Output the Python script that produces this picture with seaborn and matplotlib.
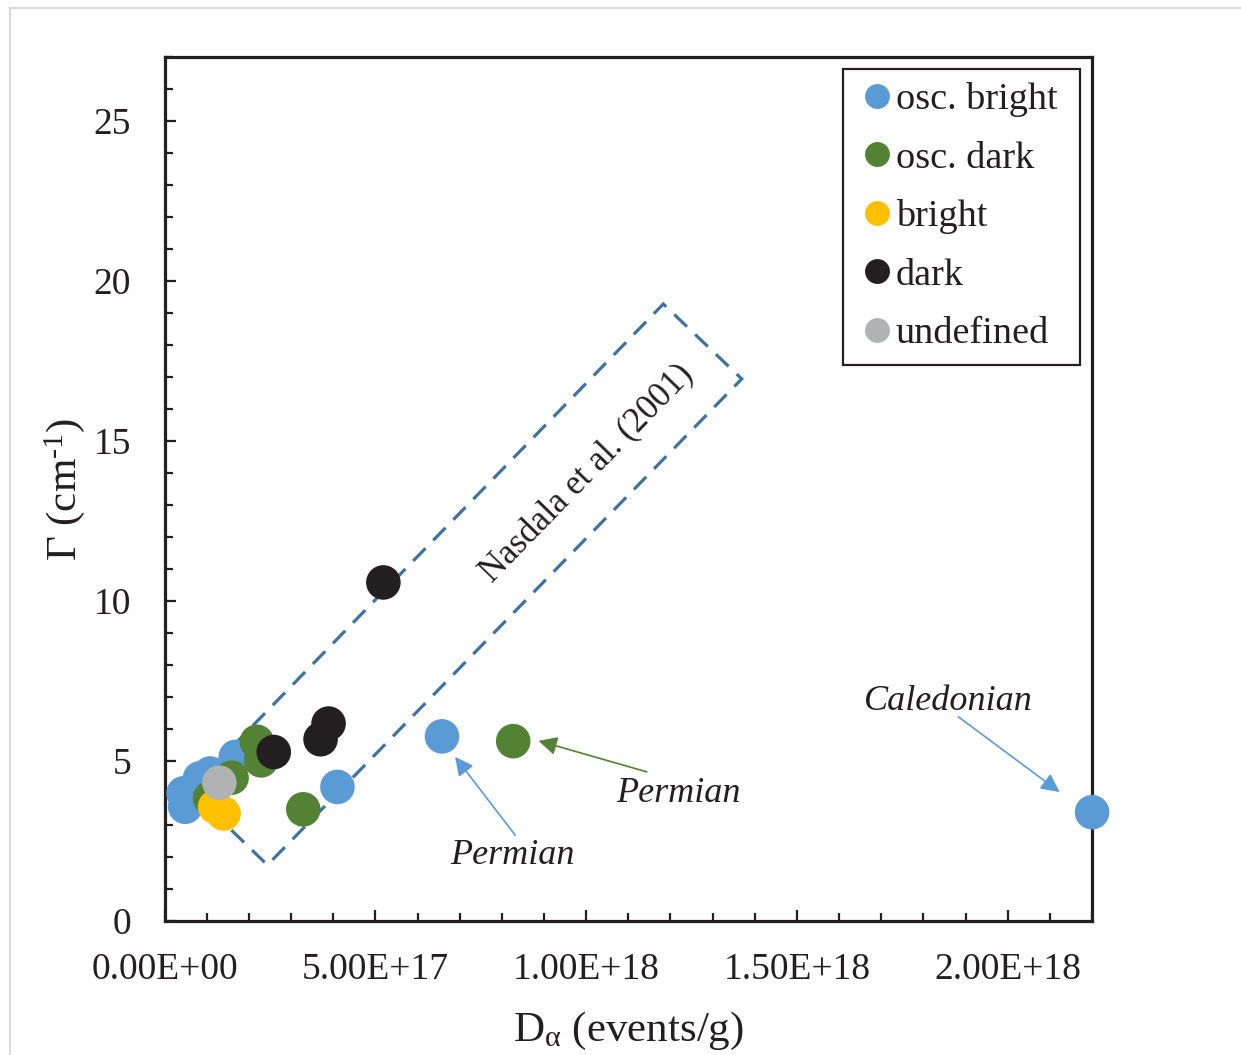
import matplotlib
matplotlib.use("Agg")
import matplotlib.pyplot as plt
from matplotlib.patches import Polygon, Rectangle
from matplotlib.ticker import MultipleLocator, FuncFormatter
import seaborn as sns
import pandas as pd

# Alpha dose (events/g) and Raman band width Γ (cm-1) per grain group
osc_bright_x = [0.45e17, 0.49e17, 0.84e17, 1.08e17, 1.69e17, 4.10e17, 6.58e17, 22.0e17]
osc_bright_y = [3.99, 3.57, 4.46, 4.61, 5.13, 4.19, 5.77, 3.40]

osc_dark_x = [1.08e17, 1.59e17, 2.19e17, 2.29e17, 3.29e17, 8.27e17]
osc_dark_y = [3.84, 4.48, 5.60, 5.02, 3.49, 5.62]

bright_x = [1.20e17, 1.40e17]
bright_y = [3.57, 3.36]

dark_x = [2.59e17, 3.70e17, 3.89e17, 5.19e17]
dark_y = [5.28, 5.68, 6.17, 10.58]

undefined_x = [1.30e17]
undefined_y = [4.32]

groups = ["osc. bright", "osc. dark", "bright", "dark", "undefined"]
colors = ["#5b9bd5", "#548235", "#ffc000", "#231f20", "#b1b2b4"]

# Nasdala et al. (2001) field, corners in data units
field_x = [0.605e17, 2.44e17, 13.69e17, 11.83e17]
field_y = [4.09, 1.75, 16.94, 19.28]

df = pd.concat([
    pd.DataFrame({"dose": osc_bright_x, "gamma": osc_bright_y, "group": groups[0]}),
    pd.DataFrame({"dose": osc_dark_x, "gamma": osc_dark_y, "group": groups[1]}),
    pd.DataFrame({"dose": bright_x, "gamma": bright_y, "group": groups[2]}),
    pd.DataFrame({"dose": dark_x, "gamma": dark_y, "group": groups[3]}),
    pd.DataFrame({"dose": undefined_x, "gamma": undefined_y, "group": groups[4]}),
], ignore_index=True)

sns.set_theme(style="white")
plt.rcParams["font.family"] = ["Liberation Serif", "DejaVu Serif"]
plt.rcParams["mathtext.fontset"] = "custom"
plt.rcParams["mathtext.rm"] = "Liberation Serif"
plt.rcParams["mathtext.it"] = "Liberation Serif"

fig = plt.figure(figsize=(12.41, 10.55), dpi=100)
ax = fig.add_axes([0.1326, 0.127, 0.7474, 0.819])

# light outer frame of the figure
fig.patches.append(Rectangle((10 / 1241, -0.05), 1.2, 0.05 + 1 - 8 / 1055,
                             transform=fig.transFigure, fill=False,
                             edgecolor="#d9d9d9", lw=1.5, zorder=0))

# dashed field
ax.add_patch(Polygon(list(zip(field_x, field_y)), closed=True, fill=False,
                     edgecolor="#3f72a0", lw=2.3, linestyle=(0, (5.5, 3.5)),
                     zorder=1))

sns.scatterplot(data=df, x="dose", y="gamma", hue="group", hue_order=groups,
                palette=colors, s=620, edgecolor="none", linewidth=0,
                alpha=1, ax=ax, zorder=3, clip_on=False)

ax.text(10.03e17, 13.98, "Nasdala et al. (2001)", rotation=45.8,
        rotation_mode="anchor", ha="center", va="center", fontsize=25,
        color="#231f20")

ax.set_xlim(0, 2.2e18)
ax.set_ylim(0, 27)
ax.xaxis.set_major_locator(MultipleLocator(5e17))
ax.xaxis.set_minor_locator(MultipleLocator(1e17))
ax.yaxis.set_major_locator(MultipleLocator(5))
ax.yaxis.set_minor_locator(MultipleLocator(1))
ax.xaxis.set_major_formatter(FuncFormatter(lambda v, p: f"{v:.2E}"))
ax.tick_params(which="both", direction="in", width=1.6, colors="#231f20",
               labelsize=27, labelcolor="#231f20", bottom=True, left=True,
               top=False, right=False)
ax.tick_params(which="major", length=8)
ax.tick_params(which="minor", length=5.5)
ax.tick_params(axis="y", which="both", pad=24)
ax.tick_params(axis="x", which="both", pad=23)
for sp in ax.spines.values():
    sp.set_linewidth(2.3)
    sp.set_color("#231f20")

ax.set_xlabel(r"D$_{\alpha}$ (events/g)", fontsize=31, color="#231f20",
              labelpad=16)
ax.set_ylabel(r"$\Gamma$ (cm$^{\text{-1}}$)", fontsize=31, color="#231f20",
              labelpad=5)

# annotations
arrow_kw = dict(arrowstyle="-|>", mutation_scale=28, lw=1.2,
                shrinkA=0, shrinkB=0)
ax.annotate("", xy=(6.89e17, 5.13), xytext=(8.32e17, 2.68),
            arrowprops=dict(color="#5b9bd5", **arrow_kw))
ax.annotate("", xy=(8.87e17, 5.63), xytext=(11.44e17, 4.66),
            arrowprops=dict(color="#548235", **arrow_kw))
ax.annotate("", xy=(21.23e17, 4.03), xytext=(18.83e17, 6.38),
            arrowprops=dict(color="#5b9bd5", **arrow_kw))
ax.text(8.24e17, 2.06, "Permian", style="italic", fontsize=26,
        ha="center", va="center", color="#231f20")
ax.text(12.18e17, 4.0, "Permian", style="italic", fontsize=26,
        ha="center", va="center", color="#231f20")
ax.text(18.59e17, 6.87, "Caledonian", style="italic", fontsize=26,
        ha="center", va="center", color="#231f20")

handles, labels = ax.get_legend_handles_labels()
leg = ax.legend(handles, labels, loc="upper left", mode="expand",
                bbox_to_anchor=(0.7315, 0.5, 0.2556, 0.4861), fontsize=27.5,
                frameon=True, fancybox=False, edgecolor="#231f20",
                framealpha=1, markerscale=0.72, handletextpad=-0.07,
                handlelength=1.1, labelspacing=0.62, borderpad=0.35,
                borderaxespad=0)
leg.get_frame().set_linewidth(1.6)
for t in leg.get_texts():
    t.set_color("#231f20")

fig.savefig("out.png", dpi=100)
